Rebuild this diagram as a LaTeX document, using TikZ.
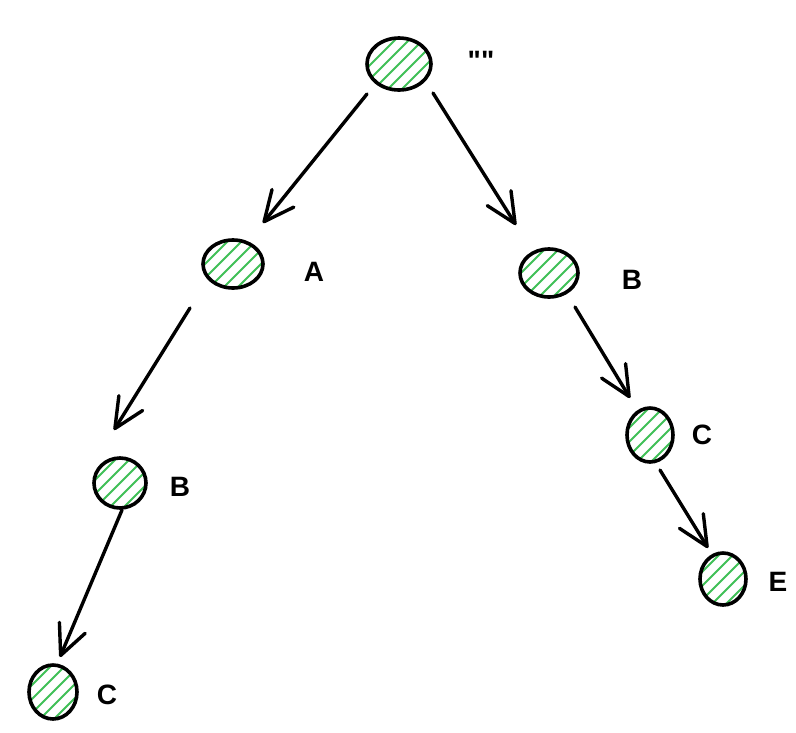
\documentclass[tikz,border=0pt]{standalone}
\usepackage{fontspec}
\setmainfont{Liberation Sans}[Ligatures=TeXOff]
\usetikzlibrary{shapes.geometric,arrows.meta}
\definecolor{hatchgreen}{RGB}{64,192,87}
\tikzset{
  vert/.style={ellipse, draw=black, line width=3.6pt, fill=white, inner sep=0pt,
    minimum width=#1,
    path picture={
      \foreach \i in {-70,-56,...,70}
        \draw[hatchgreen, line width=2pt]
          ([shift={(\i pt-40pt,-40pt)}]path picture bounding box.center) -- ++(80pt,80pt);
    }},
  lab/.style={font=\fontsize{28}{30}\selectfont\bfseries, inner sep=0pt},
  arr/.style={line width=3.4pt, line cap=round,
    -{Straight Barb[length=30pt,width=28pt,line cap=round,line join=round]}},
}
\begin{document}
\begin{tikzpicture}[x=1pt,y=-1pt]
\useasboundingbox (0,0) rectangle (796,732);
\node[vert=64pt, minimum height=52pt] (r) at (399,64) {};
\node[vert=60pt, minimum height=48pt] (a) at (233,264) {};
\node[vert=58pt, minimum height=48pt] (br) at (549,273) {};
\node[vert=52pt, minimum height=50pt] (bl) at (120,483) {};
\node[vert=46pt, minimum height=54pt] (cr) at (650,435) {};
\node[vert=46pt, minimum height=52pt] (e) at (723,579) {};
\node[vert=48pt, minimum height=54pt] (cl) at (53,692) {};

\node[lab, anchor=north] (lr) at (481,51) {""};
\node[lab] (la) at (314,272) {A};
\node[lab] (lbr) at (632,280) {B};
\node[lab] (lbl) at (180,487) {B};
\node[lab] (lcr) at (702,435) {C};
\node[lab] (le) at (778,582) {E};
\node[lab] (lcl) at (107,695) {C};

\draw[arr] ([shift={(-32,30)}]r.center) -- ([shift={(30,-41)}]a.center);
\draw[arr] ([shift={(34,29)}]r.center) -- ([shift={(-33,-48)}]br.center);
\draw[arr] ([shift={(-43,44)}]a.center) -- ([shift={(-6,-53)}]bl.center);
\draw[arr] ([shift={(2,27)}]bl.center) -- ([shift={(7,-35)}]cl.center);
\draw[arr] ([shift={(26,34)}]br.center) -- ([shift={(-20,-37)}]cr.center);
\draw[arr] ([shift={(10,35)}]cr.center) -- ([shift={(-15,-31)}]e.center);
\end{tikzpicture}
\end{document}
